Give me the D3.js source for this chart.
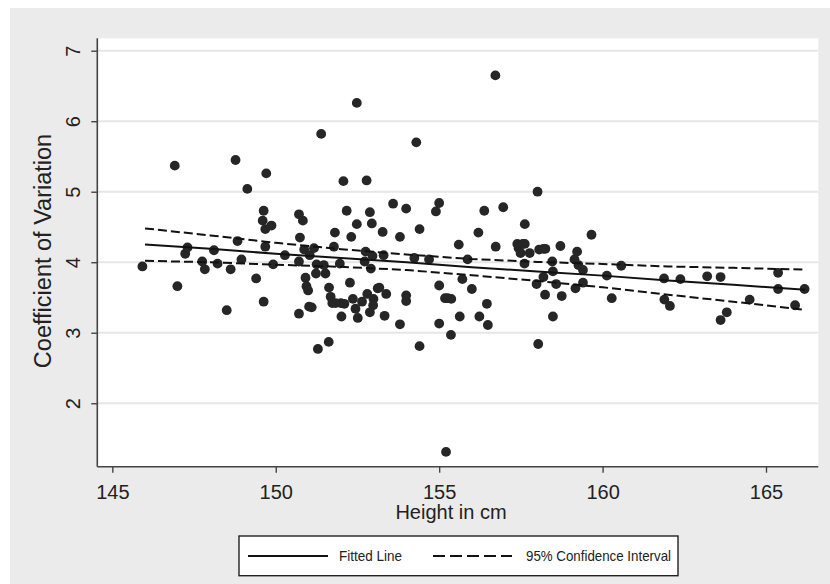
<!DOCTYPE html>
<html><head><meta charset="utf-8">
<script src="https://cdn.jsdelivr.net/npm/d3@7"></script>
<style>
html,body{margin:0;padding:0;background:#fff;}
svg{display:block;}
text{font-family:"Liberation Sans",Arial,sans-serif;fill:#222;}
</style></head>
<body><svg id="c" width="830" height="584"></svg>
<script>
const heights = [145.92,146.91,146.99,147.23,147.30,147.75,147.83,148.11,148.22,148.50,148.62,148.77,148.83,148.95,149.13,149.40,149.63,149.63,149.60,149.68,149.71,149.68,149.87,149.92,150.28,150.71,150.83,150.74,150.71,150.71,150.87,150.91,150.94,150.99,151.02,151.10,151.04,151.17,151.25,151.23,151.29,151.39,151.47,151.52,151.62,151.63,151.68,151.73,151.81,151.78,151.83,151.96,152.01,152.07,151.99,152.10,152.17,152.27,152.31,152.36,152.44,152.48,152.48,152.51,152.64,152.72,152.78,152.75,152.80,152.88,152.91,152.88,152.94,152.96,152.99,152.98,153.12,153.17,153.27,153.30,153.33,153.38,153.59,153.80,153.80,153.99,153.99,153.99,154.30,154.24,154.40,154.40,154.69,154.90,155.00,155.00,155.00,155.18,155.26,155.37,155.36,155.21,155.60,155.63,155.71,155.87,156.00,156.20,156.23,156.38,156.46,156.49,156.72,156.73,156.96,157.39,157.43,157.49,157.56,157.61,157.62,157.62,157.77,158.01,158.03,157.98,158.06,158.19,158.25,158.19,158.24,158.46,158.48,158.48,158.58,158.71,158.75,159.14,159.22,159.26,159.17,159.40,159.40,159.66,160.13,160.28,160.57,161.88,161.89,162.06,162.38,163.20,163.61,163.61,163.80,164.50,165.37,165.37,165.89,166.18];
const cvs = [3.94,5.37,3.66,4.12,4.21,4.01,3.90,4.17,3.98,3.32,3.90,5.45,4.30,4.04,5.04,3.77,3.44,4.73,4.59,4.47,5.26,4.22,4.52,3.97,4.10,4.68,4.59,4.35,4.01,3.27,4.18,3.78,3.66,3.60,3.37,3.36,4.10,4.20,3.97,3.84,2.77,5.82,3.96,3.84,2.87,3.64,3.51,3.42,4.42,4.22,3.42,3.98,3.23,5.15,3.42,3.41,4.73,3.71,4.36,3.48,3.34,6.26,4.54,3.21,3.44,4.01,5.16,4.15,3.55,4.71,3.91,3.29,4.55,4.09,3.48,3.39,3.63,3.64,4.43,4.10,3.24,3.55,4.83,4.36,3.12,4.76,3.53,3.45,5.70,4.06,4.47,2.81,4.04,4.72,4.84,3.67,3.13,3.49,3.49,3.48,2.97,1.31,4.25,3.23,3.76,4.04,3.62,4.42,3.23,4.73,3.41,3.11,6.65,4.22,4.78,4.26,4.20,4.13,4.26,3.98,4.54,4.26,4.13,5.00,2.84,3.69,4.18,4.19,4.19,3.79,3.54,4.01,3.87,3.23,3.69,4.23,3.52,4.04,4.15,3.96,3.63,3.89,3.71,4.39,3.81,3.49,3.95,3.77,3.47,3.38,3.76,3.80,3.79,3.18,3.29,3.47,3.85,3.62,3.39,3.62];

const fitX     = [146, 148, 150, 152, 154, 156, 158, 160, 162, 164, 166.2];
const fitY     = [4.25, 4.19, 4.12, 4.06, 4.00, 3.93, 3.87, 3.81, 3.74, 3.68, 3.61];
const ciUpper  = [4.48, 4.38, 4.275, 4.185, 4.11, 4.045, 4.005, 3.975, 3.94, 3.92, 3.895];
const ciLower  = [4.02, 4.00, 3.965, 3.935, 3.89, 3.815, 3.735, 3.645, 3.54, 3.44, 3.325];

const xTicks = [145, 150, 155, 160, 165];
const yTicks = [2, 3, 4, 5, 6, 7];
const xTitle = "Height in cm";
const yTitle = "Coefficient of Variation";
const legendLabels = ["Fitted Line", "95% Confidence Interval"];

const svg = d3.select("#c");
svg.append("rect").attr("x",10).attr("y",8).attr("width",820).attr("height",576).attr("fill","#ebebeb");

const L = 97.3, R = 818.3, T = 38.3, B = 466.7;
const x = d3.scaleLinear().domain([144.54, 166.6]).range([L, R]);
const y = d3.scaleLinear().domain([1.1, 7.176]).range([B, T]);

svg.append("rect").attr("x",L).attr("y",T).attr("width",R-L).attr("height",B-T).attr("fill","#fff");

// gridlines
svg.append("g").selectAll("line").data(yTicks).join("line")
  .attr("x1",L).attr("x2",R).attr("y1",d=>y(d)).attr("y2",d=>y(d))
  .attr("stroke","#e6e6e6").attr("stroke-width",2);

// points
svg.append("g").selectAll("circle").data(heights.map((h,i)=>[h,cvs[i]])).join("circle")
  .attr("cx",d=>x(d[0])).attr("cy",d=>y(d[1])).attr("r",4.9).attr("fill","#262626");

// lines
const line = (ys)=>d3.line().x((d,i)=>x(fitX[i])).y((d)=>y(d))(ys);
svg.append("path").attr("d",line(ciUpper)).attr("fill","none").attr("stroke","#111").attr("stroke-width",2).attr("stroke-dasharray","9,4");
svg.append("path").attr("d",line(ciLower)).attr("fill","none").attr("stroke","#111").attr("stroke-width",2).attr("stroke-dasharray","9,4");
svg.append("path").attr("d",line(fitY)).attr("fill","none").attr("stroke","#111").attr("stroke-width",2);

// axes
const fmt = d3.format("d");
const xa = svg.append("g").attr("transform",`translate(0,${B})`)
  .call(d3.axisBottom(x).tickValues(xTicks).tickFormat(fmt).tickSize(6).tickSizeOuter(0));
xa.select(".domain").attr("d",`M${L},0H${R}`);
const ya = svg.append("g").attr("transform",`translate(${L},0)`)
  .call(d3.axisLeft(y).tickValues(yTicks).tickFormat(fmt).tickSize(6).tickSizeOuter(0));
ya.select(".domain").attr("d",`M0,${B}V${T}`);
[xa,ya].forEach(g=>{
  g.select(".domain").attr("stroke","#444").attr("stroke-width",1.6);
  g.selectAll(".tick line").attr("stroke","#444").attr("stroke-width",1.4);
});
xa.selectAll(".tick text").attr("font-size",20).attr("fill","#222").attr("dy",null).attr("y",32)
  .attr("font-family",'"Liberation Sans",Arial,sans-serif');
ya.selectAll(".tick text").attr("font-size",20).attr("fill","#222").attr("dy",null)
  .attr("text-anchor","middle").attr("x",null)
  .attr("transform","translate(-17,0) rotate(-90)")
  .attr("font-family",'"Liberation Sans",Arial,sans-serif');

svg.append("text").attr("x",451).attr("y",519).attr("text-anchor","middle")
  .attr("font-size",20).text(xTitle);
svg.append("text").attr("transform","translate(51,251) rotate(-90)").attr("text-anchor","middle")
  .attr("font-size",23.5).text(yTitle);

// legend
const lg = svg.append("g");
lg.append("rect").attr("x",239).attr("y",536).attr("width",439).attr("height",39.7)
  .attr("fill","#fff").attr("stroke","#222").attr("stroke-width",1.4);
lg.append("line").attr("x1",248).attr("x2",328).attr("y1",556).attr("y2",556).attr("stroke","#111").attr("stroke-width",2);
lg.append("line").attr("x1",433).attr("x2",512).attr("y1",556).attr("y2",556).attr("stroke","#111").attr("stroke-width",2).attr("stroke-dasharray","12,5");
lg.append("text").attr("x",339).attr("y",561).attr("font-size",14.5).attr("textLength",63).attr("lengthAdjust","spacingAndGlyphs")
  .style("font-family",'"Liberation Sans Narrow","Liberation Sans",Arial,sans-serif').text(legendLabels[0]);
lg.append("text").attr("x",526).attr("y",561).attr("font-size",14.5).attr("textLength",145).attr("lengthAdjust","spacingAndGlyphs")
  .style("font-family",'"Liberation Sans Narrow","Liberation Sans",Arial,sans-serif').text(legendLabels[1]);
</script></body></html>
